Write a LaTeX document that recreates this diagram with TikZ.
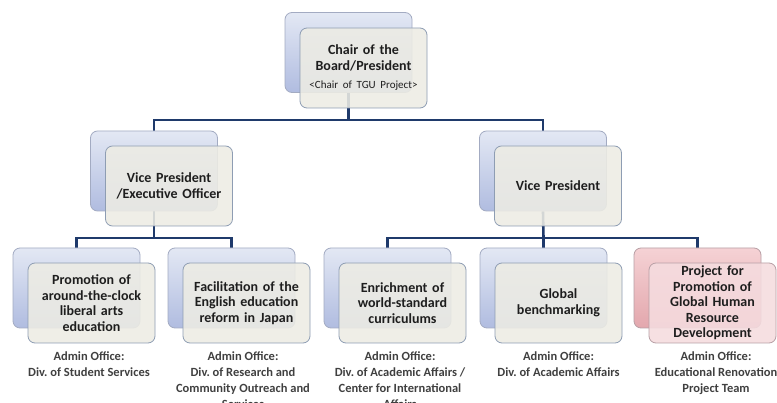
\documentclass[tikz,border=0pt]{standalone}
\usepackage{fontspec}
\setmainfont{Carlito}
\frenchspacing
\pgfdeclarelayer{background}
\pgfdeclarelayer{canvas}
\pgfsetlayers{canvas,background,main}
\definecolor{backtop}{HTML}{E3E8F4}
\definecolor{backbot}{HTML}{B0BCE0}
\definecolor{backborder}{HTML}{A3ABC2}
\definecolor{frontfill}{HTML}{EDECE4}
\definecolor{frontborder}{HTML}{8E9DB3}
\definecolor{pinktop}{HTML}{F5D2D5}
\definecolor{pinkbot}{HTML}{E3A7AD}
\definecolor{pinkfront}{HTML}{F5DCDF}
\definecolor{pinkborder}{HTML}{B89FA5}
\definecolor{connc}{HTML}{1F3A6B}
\definecolor{txt}{HTML}{1E1E1E}
\tikzset{
  boxbase/.style={rounded corners=7pt, minimum width=127pt, minimum height=80pt, inner sep=0pt, line width=0.8pt},
  backbox/.style={boxbase, draw=backborder, top color=backtop, bottom color=backbot},
  frontbox/.style={boxbase, draw=frontborder, fill=frontfill, fill opacity=0.88, text opacity=1, draw opacity=1,
     align=center, text width=124pt, text=txt, font=\bfseries\fontsize{14}{15.5}\selectfont},
  pinkback/.style={boxbase, draw=pinkborder, top color=pinktop, bottom color=pinkbot},
  pinkfrontbox/.style={frontbox, draw=pinkborder, fill=pinkfront},
  admin/.style={anchor=north, inner sep=0pt, align=center, text=txt!85, font=\bfseries\fontsize{12.5}{16}\selectfont},
  conn/.style={draw=connc, line width=2.6pt}
}
\begin{document}
\begin{tikzpicture}[x=1pt,y=-1pt]
\useasboundingbox (0,0) rectangle (777,403);
% top
\node[backbox] (topb) at (348.5,52.5) {};
\node[frontbox] (topf) at (363.5,68) {Chair of the\\Board/President\\[3pt]{\mdseries\fontsize{11}{12}\selectfont <Chair of TGU Project>}};
% second level
\node[backbox] (vp1b) at (154,171) {};
\node[frontbox] (vp1f) at (169,186) {Vice President\\/Executive Officer};
\node[backbox] (vp2b) at (543,171) {};
\node[frontbox] (vp2f) at (558,186) {Vice President};
% third level
\node[backbox] (b1b) at (76.5,288) {};
\node[frontbox] (b1f) at (91.5,303) {Promotion of\\around-the-clock\\liberal arts\\education};
\node[backbox] (b2b) at (231.5,288) {};
\node[frontbox] (b2f) at (246.5,303) {Facilitation of the\\English education\\reform in Japan};
\node[backbox] (b3b) at (387.5,288) {};
\node[frontbox] (b3f) at (402.5,303) {Enrichment of\\world-standard\\curriculums};
\node[backbox] (b4b) at (543.5,288) {};
\node[frontbox] (b4f) at (558.5,303) {Global\\benchmarking};
\node[pinkback] (b5b) at (697.5,288) {};
\node[pinkfrontbox] (b5f) at (712.5,303) {Project for\\Promotion of\\Global Human\\Resource\\Development};
% admin labels
\node[admin] (a1) at (89,352) {Admin Office:\\Div. of Student Services};
\node[admin] (a2) at (243,352) {Admin Office:\\Div. of Research and\\Community Outreach and\\Services};
\node[admin] (a3) at (400,352) {Admin Office:\\Div. of Academic Affairs /\\Center for International\\Affairs};
\node[admin] (a4) at (558.5,352) {Admin Office:\\Div. of Academic Affairs};
\node[admin] (a5) at (716,352) {Admin Office:\\Educational Renovation\\Project Team};
% connectors
\coordinate (j1) at (348.5,120);
\coordinate (j2) at (154,238);
\coordinate (j3) at (543.5,238);
\begin{pgfonlayer}{canvas}
\fill[white] (0,0) rectangle (777,403);
\end{pgfonlayer}
\begin{pgfonlayer}{background}
\draw[conn] (topb.south) -- (j1);
\draw[conn] (j1) -| (vp1b.north);
\draw[conn] (j1) -| (vp2b.north);
\draw[conn] (vp1b.south) -- (j2);
\draw[conn] (j2) -| (b1b.north);
\draw[conn] (j2) -| (b2b.north);
\draw[conn] (vp2b.south) -- (j3);
\draw[conn] (j3) -| (b3b.north);
\draw[conn] (j3) -- (b4b.north);
\draw[conn] (j3) -| (b5b.north);
\end{pgfonlayer}
\end{tikzpicture}
\end{document}
